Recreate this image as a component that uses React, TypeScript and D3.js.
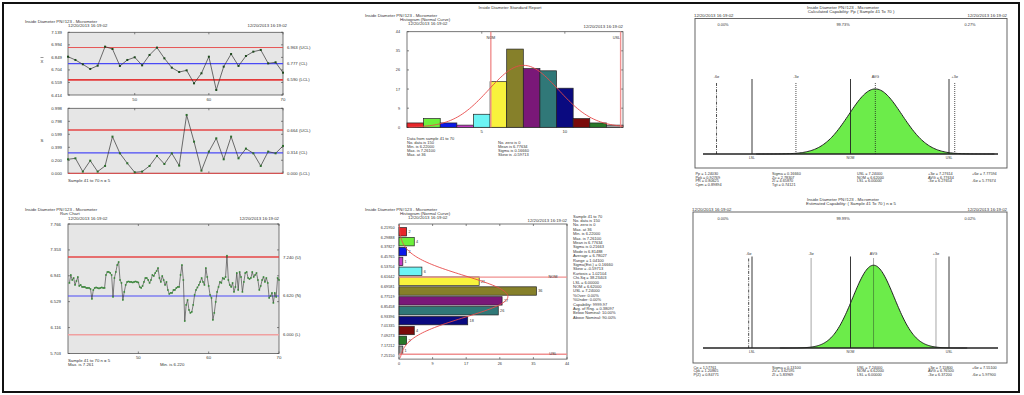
import React from "react";
import * as d3 from "d3";

const FONT = "'Liberation Sans', Arial, sans-serif";
const FS = 4.3;

const chartTitle = "Inside Diameter PN#123 - Micrometer";
const reportTitle = "Inside Diameter Standard Report";
const stamp = "12/20/2013  16:19:02";

// ---------- X-bar / S chart ----------
const sampleNos = [41, 42, 43, 44, 45, 46, 47, 48, 49, 50, 51, 52, 53, 54, 55, 56, 57, 58, 59, 60, 61, 62, 63, 64, 65, 66, 67, 68, 69, 70];
const xbarValues = [6.857, 6.819, 6.769, 6.715, 6.753, 6.973, 6.946, 6.750, 6.819, 6.850, 6.757, 6.877, 6.962, 6.838, 6.730, 6.680, 6.699, 6.549, 6.665, 6.857, 6.472, 6.742, 6.888, 6.750, 6.865, 6.915, 6.935, 6.780, 6.792, 6.672];
const sValues = [0.215, 0.230, 0.026, 0.194, 0.026, 0.113, 0.563, 0.307, 0.154, 0.015, 0.026, 0.113, 0.266, 0.143, 0.307, 0.118, 0.896, 0.486, 0.041, 0.333, 0.537, 0.215, 0.563, 0.230, 0.379, 0.307, 0.113, 0.333, 0.307, 0.420];
const xbarTicks = [7.139, 6.994, 6.849, 6.704, 6.559, 6.414];
const xbarLimits = [6.963, 6.777, 6.590];
const sTicks = [0.998, 0.798, 0.599, 0.399, 0.2, 0.0];
const sLimits = [0.664, 0.314, 0.0];
const limitNames = ["UCL", "CL", "LCL"];
const sampleTicks = [50, 60, 70];

// ---------- Run chart ----------
const runValues = [
  6.827, 6.954, 6.874, 6.906, 6.795, 6.858, 6.922, 6.779, 6.795, 6.763,
  6.763, 6.763, 6.747, 6.747, 6.747, 6.731, 6.572, 6.715, 6.747, 6.755,
  6.747, 6.740, 6.747, 6.755, 6.747, 6.747, 6.954, 7.002, 7.002, 6.986,
  6.954, 6.604, 6.906, 7.002, 7.113, 7.161, 6.874, 6.827, 6.556, 6.684,
  6.795, 6.843, 6.850, 6.843, 6.843, 6.835, 6.843, 6.850, 6.843, 6.835,
  6.763, 6.747, 6.779, 6.843, 6.906, 6.906, 6.874, 6.827, 6.874, 6.954,
  6.938, 6.986, 7.017, 7.065, 6.906, 6.843, 6.938, 6.874, 6.795, 6.843,
  6.715, 6.652, 6.668, 6.668, 6.715, 6.715, 6.747, 6.763, 6.763, 6.954,
  7.113, 6.874, 6.220, 6.477, 6.556, 6.397, 6.350, 6.366, 6.477, 6.636,
  6.715, 6.755, 6.795, 6.843, 6.906, 6.843, 6.795, 7.065, 6.922, 6.779,
  6.636, 6.588, 6.238, 6.350, 6.525, 6.684, 6.763, 6.843, 6.827, 6.906,
  6.890, 6.922, 7.261, 6.874, 6.795, 6.763, 6.827, 6.684, 6.763, 6.986,
  6.715, 7.002, 6.922, 6.684, 6.843, 6.986, 7.002, 6.906, 6.890, 6.906,
  7.002, 6.922, 6.954, 6.986, 6.874, 6.715, 6.779, 6.874, 6.922, 6.843,
  6.906, 6.827, 6.588, 6.620, 6.668, 6.509, 6.668, 6.604, 6.906, 6.874,
];
const runTicks = [7.766, 7.353, 6.941, 6.529, 6.116, 5.703];
const runLimits = [7.24, 6.62, 6.0];
const runLimitNames = ["U", "N", "L"];

// ---------- Histogram ----------
const binEdges = [6.2195, 6.29888, 6.37827, 6.45765, 6.53704, 6.61642, 6.69581, 6.77519, 6.85458, 6.93396, 7.01335, 7.09273, 7.17212, 7.2515];
const binCounts = [2, 4, 2, 1, 6, 21, 36, 27, 26, 18, 4, 2, 1];
const binColors = ["#e8262a", "#6cf03c", "#0a18e8", "#c83cc8", "#6cf4f4", "#f8f23c", "#86802a", "#7a1878", "#307878", "#0a0a80", "#7a0a0a", "#287828", "#a0a0a0"];
const countTickPos = [0, 8.8, 17.6, 26.4, 35.2, 44];
const countTickLabels = ["0", "9", "17", "26", "35", "44"];
const binTickPos = [4.5, 9.5];
const binTickLabels = ["5", "10"];
const histLeftStats = ["Data from sample 41 to 70", "No. data is 150", "Min. is 6.22000", "Max. is 7.26100", "Max. at 36"];
const histRightStats = ["No. zero is 0", "Mean is 6.77634", "Sigma is 0.16660", "Skew is -0.59713"];
const sideStats = [
  "Sample 41 to 70", "No. data is 150", "No. zero is 0", "Max. at 36", "Min. is 6.22000",
  "Max. is 7.26100", "Mean is 6.77634", "Sigma is 0.21663", "Mode is 6.81488", "Average = 6.78027",
  "Range = 1.04100", "Sigma(Est.) = 0.16660", "Skew = -0.59713", "Kurtosis = 1.02104", "Chi-Sq = 38.23403",
  "LSL = 6.00000", "NOM = 6.62000", "USL = 7.24000", "%Over:  0.00%", "%Under:  0.00%",
  "Capability: 9999.97", "Avg. of Rng. = 0.38097", "Below Nominal: 10.00%", "Above Nominal: 90.00%",
];

// ---------- Specs / fit ----------
const specLSL = 6.0;
const specNOM = 6.62;
const specUSL = 7.24;
const fitMean = 6.77634;
const fitSigma = 0.1666;
const fitN = 150;
const estMean = 6.765;
const estSigma = 0.131;

const cap1Pcts = ["0.00%", "99.73%", "0.27%"];
const cap2Pcts = ["0.00%", "99.99%", "0.02%"];
const cap1Stats = [
  ["Pp = 1.24030", "Ppk = 0.92769", "PR = 0.80625", "Cpm = 0.89894"],
  ["Sigma = 0.16660", "Zu = 2.78307", "Zl = 4.65870", "Tgt = 0.74121"],
  ["USL = 7.24000", "NOM = 6.62000", "LSL = 6.00000"],
  ["+3\u03c3 = 7.27614", "AVG = 6.77634", "-3\u03c3 = 6.27654"],
  ["+6\u03c3 = 7.77594", "", "-6\u03c3 = 5.77674"],
];
const cap2Stats = [
  ["Cp = 1.57761", "Cpk = 1.20865", "P(Z) = 0.84771"],
  ["Sigma = 0.13100", "Zu = 3.62595", "Zl = 5.83969"],
  ["USL = 7.24000", "NOM = 6.62000", "LSL = 6.00000"],
  ["+3\u03c3 = 7.15800", "AVG = 6.76500", "-3\u03c3 = 6.37200"],
  ["+6\u03c3 = 7.55100", "", "-6\u03c3 = 5.97900"],
];

const T = ({ x, y, children, anchor = "start", size = FS, fill = "#333", weight = "normal" }: any) => (
  <text x={x} y={y} fontSize={size} textAnchor={anchor} fill={fill} fontFamily={FONT} fontWeight={weight}>
    {children}
  </text>
);

const pdf = (z: number) => Math.exp(-0.5 * z * z) / Math.sqrt(2 * Math.PI);
const zGrid = d3.range(-4.5, 4.5001, 0.05);

function Frame({ x0, x1, y0, y1, xt, yt, fill }: any) {
  const L = 2;
  return (
    <g>
      <rect x={x0} y={y0} width={x1 - x0} height={y1 - y0} fill={fill} stroke="#555" strokeWidth={0.8} />
      {xt.map((px: number, i: number) => (
        <g key={"x" + i} stroke="#555" strokeWidth={0.7}>
          <line x1={px} x2={px} y1={y1} y2={y1 - L} />
          <line x1={px} x2={px} y1={y0} y2={y0 + L} />
        </g>
      ))}
      {yt.map((py: number, i: number) => (
        <g key={"y" + i} stroke="#555" strokeWidth={0.7}>
          <line x1={x0} x2={x0 + L} y1={py} y2={py} />
          <line x1={x1} x2={x1 - L} y1={py} y2={py} />
        </g>
      ))}
    </g>
  );
}

function ControlPanel() {
  const x = d3.scaleLinear().domain([41, 70]).range([68, 283]);
  const y1 = d3.scaleLinear().domain([6.414, 7.139]).range([95, 32.3]);
  const y2 = d3.scaleLinear().domain([0, 0.998]).range([173.3, 108.3]);
  const l1 = d3.line<number>().x((_, i) => x(sampleNos[i])).y((d) => y1(d));
  const l2 = d3.line<number>().x((_, i) => x(sampleNos[i])).y((d) => y2(d));
  const limStyle = [
    { c: "#e64646", w: 0.9 },
    { c: "#4a4af6", w: 1.3 },
    { c: "#e43a3a", w: 1.7 },
  ];
  const sStyle = [
    { c: "#e64646", w: 1.5 },
    { c: "#4a4af6", w: 1.3 },
    { c: "#e64646", w: 1.0 },
  ];
  return (
    <g>
      <T x={25} y={23}>{chartTitle}</T>
      <T x={68} y={26.8}>{stamp}</T>
      <T x={287} y={26.8} anchor="end">{stamp}</T>
      <Frame x0={68} x1={283} y0={32.3} y1={95} xt={sampleTicks.map(x)} yt={xbarTicks.map(y1)} fill="#e6e6e6" />
      {xbarLimits.map((v, i) => (
        <line key={i} x1={68} x2={283} y1={y1(v)} y2={y1(v)} stroke={limStyle[i].c} strokeWidth={limStyle[i].w} />
      ))}
      <path d={l1(xbarValues) || ""} fill="none" stroke="#333" strokeWidth={0.7} />
      {xbarValues.map((v, i) => (
        <rect key={i} x={x(sampleNos[i]) - 1} y={y1(v) - 1} width={2} height={2} fill="#1e4a1e" />
      ))}
      {xbarTicks.map((v, i) => (
        <T key={i} x={62} y={y1(v) + 1.5} anchor="end">{v.toFixed(3)}</T>
      ))}
      {xbarLimits.map((v, i) => (
        <T key={i} x={287} y={y1(v) + 1.5}>{`${v.toFixed(3)} (${limitNames[i]})`}</T>
      ))}
      {sampleTicks.map((v, i) => (
        <T key={i} x={x(v)} y={100.5} anchor="middle">{v}</T>
      ))}
      <line x1={40.5} x2={43.5} y1={57.5} y2={57.5} stroke="#333" strokeWidth={0.5} />
      <T x={42} y={63} anchor="middle">X</T>

      <Frame x0={68} x1={283} y0={108.3} y1={173.3} xt={sampleTicks.map(x)} yt={sTicks.map(y2)} fill="#e6e6e6" />
      {sLimits.map((v, i) => (
        <line key={i} x1={68} x2={283} y1={y2(v)} y2={y2(v)} stroke={sStyle[i].c} strokeWidth={sStyle[i].w} />
      ))}
      <path d={l2(sValues) || ""} fill="none" stroke="#333" strokeWidth={0.7} />
      {sValues.map((v, i) => (
        <rect key={i} x={x(sampleNos[i]) - 1} y={y2(v) - 1} width={2} height={2} fill="#2e6e2e" />
      ))}
      {sTicks.map((v, i) => (
        <T key={i} x={62} y={y2(v) + 1.5} anchor="end">{v.toFixed(3)}</T>
      ))}
      {sLimits.map((v, i) => (
        <T key={i} x={287} y={y2(v) + 1.5}>{`${v.toFixed(3)} (${limitNames[i]})`}</T>
      ))}
      <T x={42} y={141.5} anchor="middle">S</T>
      <T x={68} y={181.5}>Sample  41  to  70   n = 5</T>
    </g>
  );
}

function RunPanel() {
  const n = runValues.length;
  const x = d3.scaleLinear().domain([40, 70]).range([68, 279]);
  const xi = (i: number) => x(40 + ((i + 1) * 30) / n);
  const y = d3.scaleLinear().domain([5.703, 7.766]).range([353.5, 224]);
  const line = d3.line<number>().x((_, i) => xi(i)).y((d) => y(d));
  const st = [
    { c: "#e64646", w: 1.5 },
    { c: "#4a4af6", w: 1.1 },
    { c: "#f0a0a0", w: 1.5 },
  ];
  return (
    <g>
      <T x={25} y={211}>{chartTitle}</T>
      <T x={60} y={215}>Run Chart</T>
      <T x={68} y={219.5}>{stamp}</T>
      <T x={279} y={219.5} anchor="end">{stamp}</T>
      <Frame x0={68} x1={279} y0={224} y1={353.5} xt={sampleTicks.map(x)} yt={runTicks.map(y)} fill="#e6e6e6" />
      {runLimits.map((v, i) => (
        <line key={i} x1={68} x2={279} y1={y(v)} y2={y(v)} stroke={st[i].c} strokeWidth={st[i].w} />
      ))}
      <path d={line(runValues) || ""} fill="none" stroke="#333" strokeWidth={0.6} />
      {runValues.map((v, i) => (
        <rect key={i} x={xi(i) - 0.8} y={y(v) - 0.8} width={1.6} height={1.6} fill="#3a8a3a" />
      ))}
      {runTicks.map((v, i) => (
        <T key={i} x={61} y={y(v) + 1.5} anchor="end">{v.toFixed(3)}</T>
      ))}
      {runLimits.map((v, i) => (
        <T key={i} x={283} y={y(v) + 1.5}>{`${v.toFixed(3)} (${runLimitNames[i]})`}</T>
      ))}
      {sampleTicks.map((v, i) => (
        <T key={i} x={x(v)} y={358.5} anchor="middle">{v}</T>
      ))}
      <T x={68} y={361.5}>Sample  41  to  70   n = 5</T>
      <T x={68} y={365.5}>Max. is 7.261</T>
      <T x={160} y={365.5}>Min. is 6.220</T>
    </g>
  );
}

const binW = binEdges[1] - binEdges[0];
const binPos = (v: number) => (v - binEdges[0]) / binW;
const fitCount = (z: number) => (fitN * binW * pdf(z)) / fitSigma;

function HistPanel() {
  const xb = d3.scaleLinear().domain([0, 13]).range([407, 623]);
  const yc = d3.scaleLinear().domain([0, 44]).range([127.3, 31.7]);
  const pts = zGrid
    .map((z) => [binPos(fitMean + z * fitSigma), fitCount(z)])
    .filter((p) => p[0] >= 0 && p[0] <= 13);
  const curve = d3.line<number[]>().x((p) => xb(p[0])).y((p) => yc(p[1]))(pts) || "";
  const spec = [
    { v: specNOM, t: "NOM", a: "middle", dx: 0 },
    { v: specUSL, t: "USL", a: "end", dx: 0 },
  ];
  return (
    <g>
      <T x={510} y={9} anchor="middle">{reportTitle}</T>
      <T x={365} y={17}>{chartTitle}</T>
      <T x={400} y={21}>Histogram (Normal Curve)</T>
      <T x={408} y={24.8}>{stamp}</T>
      <T x={623} y={27.5} anchor="end">{stamp}</T>
      <Frame x0={407} x1={623} y0={31.7} y1={127.3} xt={binTickPos.map(xb)} yt={countTickPos.map(yc)} fill="#ffffff" />
      {binCounts.map((c, i) => (
        <rect key={i} x={xb(i)} y={yc(c)} width={xb(1) - xb(0)} height={yc(0) - yc(c)} fill={binColors[i]} stroke="#222" strokeWidth={0.7} />
      ))}
      {spec.map((s, i) => (
        <g key={i}>
          <line x1={xb(binPos(s.v))} x2={xb(binPos(s.v))} y1={31.7} y2={127.3} stroke="#f09090" strokeWidth={1.4} />
          <T x={xb(binPos(s.v)) + (s.a === "end" ? -0.5 : 0)} y={39} anchor={s.a} size={3.8}>{s.t}</T>
        </g>
      ))}
      <path d={curve} fill="none" stroke="#e84a4a" strokeWidth={0.9} />
      {countTickPos.map((v, i) => (
        <T key={i} x={400} y={yc(v) + 1.5} anchor="end" size={3.8}>{countTickLabels[i]}</T>
      ))}
      {binTickPos.map((v, i) => (
        <T key={i} x={xb(v)} y={132.5} anchor="middle">{binTickLabels[i]}</T>
      ))}
      {histLeftStats.map((s, i) => (
        <T key={i} x={407} y={139.5 + i * 4.2} size={4}>{s}</T>
      ))}
      {histRightStats.map((s, i) => (
        <T key={i} x={498} y={143.7 + i * 4.2} size={4}>{s}</T>
      ))}
    </g>
  );
}

function HHistPanel() {
  const yb = d3.scaleLinear().domain([0, 13]).range([227.3, 355.6]);
  const xc = d3.scaleLinear().domain([0, 44]).range([399, 567]);
  const pts = zGrid
    .map((z) => [binPos(fitMean + z * fitSigma), fitCount(z)])
    .filter((p) => p[0] >= -0.3 && p[0] <= 13.3);
  const curve = d3.line<number[]>().x((p) => xc(p[1])).y((p) => yb(p[0]))(pts) || "";
  const bh = 8.4;
  const spec = [
    { v: specNOM, t: "NOM" },
    { v: specUSL, t: "USL" },
  ];
  return (
    <g>
      <T x={365} y={211}>{chartTitle}</T>
      <T x={400} y={215}>Histogram (Normal Curve)</T>
      <T x={408} y={219}>{stamp}</T>
      <T x={567} y={221.5} anchor="end">{stamp}</T>
      <Frame x0={399} x1={567} y0={224} y1={359.1} xt={countTickPos.map(xc)} yt={[]} fill="#ffffff" />
      {binCounts.map((c, i) => (
        <g key={i}>
          <rect x={xc(0)} y={yb(i) + 0.3} width={xc(c) - xc(0)} height={bh} fill={binColors[i]} stroke="#222" strokeWidth={0.7} />
          <T x={xc(c) + 1.8} y={yb(i) + 0.3 + bh / 2 + 1.4} size={3.8}>{c}</T>
        </g>
      ))}
      {spec.map((s, i) => (
        <g key={i}>
          <line x1={399} x2={567} y1={yb(binPos(s.v))} y2={yb(binPos(s.v))} stroke="#f09090" strokeWidth={1.4} />
          <T x={553} y={yb(binPos(s.v)) + 1.3} anchor="middle" size={3.8}>{s.t}</T>
        </g>
      ))}
      <path d={curve} fill="none" stroke="#e84a4a" strokeWidth={0.9} />
      {binEdges.map((v, i) => (
        <T key={i} x={394.5} y={yb(i) + 1.4} anchor="end" size={3.8}>{v.toFixed(5)}</T>
      ))}
      {countTickPos.map((v, i) => (
        <T key={i} x={xc(v)} y={364.5} anchor="middle" size={3.8}>{countTickLabels[i]}</T>
      ))}
      {sideStats.map((s, i) => (
        <T key={i} x={573} y={217.5 + i * 4.4} size={4}>{s}</T>
      ))}
    </g>
  );
}

function CapPanel({ p }: any) {
  const x = d3.scaleLinear().domain([specLSL, specUSL]).range([752, 949]);
  const sPx = x(p.mean + p.sigma) - x(p.mean);
  const AREA = 4318;
  const amp = AREA / (sPx * Math.sqrt(2 * Math.PI));
  const curvePts = zGrid
    .map((z) => [x(p.mean + z * p.sigma), p.base - amp * Math.exp(-0.5 * z * z)])
    .filter((q) => q[0] >= 703 && q[0] <= 998);
  const area = d3.area<number[]>().x((q) => q[0]).y0(p.base).y1((q) => q[1])(curvePts) || "";
  const line = d3.line<number[]>().x((q) => q[0]).y((q) => q[1])(curvePts) || "";
  const specs = [
    { v: specLSL, t: "LSL" },
    { v: specNOM, t: "NOM" },
    { v: specUSL, t: "USL" },
  ];
  const sig = [
    { k: -6, t: "-6\u03c3", dash: "3,1.2,0.8,1.2" },
    { k: -3, t: "-3\u03c3", dash: "1,1" },
    { k: 0, t: "AVG", dash: "1,1" },
    { k: 3, t: "+3\u03c3", dash: "1,1" },
    { k: 6, t: "+6\u03c3", dash: "3,1.2,0.8,1.2" },
  ].filter((s) => {
    const px = x(p.mean + s.k * p.sigma);
    return px >= 703 && px <= 998;
  });
  const colX = [p.bx + 0.5, 772, 857, 928, 972];
  return (
    <g>
      <T x={843} y={p.titleY} anchor="middle">{chartTitle}</T>
      <T x={851} y={p.titleY + 4} anchor="middle">{p.sub}</T>
      <T x={p.bx - 1} y={p.by - 1.3}>{stamp}</T>
      <T x={1007} y={p.by - 1.3} anchor="end">{stamp}</T>
      <rect x={p.bx} y={p.by} width={1007 - p.bx} height={p.bh} fill="#fff" stroke="#555" strokeWidth={0.9} />
      {p.pcts.map((s: string, i: number) => (
        <T key={i} x={[723, 843, 970][i]} y={p.by + 7.5} anchor="middle" size={3.9}>{s}</T>
      ))}
      <path d={area} fill="#6cec4a" />
      <path d={line} fill="none" stroke="#222" strokeWidth={1} />
      {sig.map((s, i) => {
        const px = x(p.mean + s.k * p.sigma);
        return (
          <g key={i}>
            <line x1={px} x2={px} y1={p.dotTop} y2={p.base} stroke="#222" strokeWidth={0.8} strokeDasharray={s.dash} />
            <T x={px} y={p.labTop} anchor="middle" size={3.6}>{s.t}</T>
          </g>
        );
      })}
      {specs.map((s, i) => (
        <g key={i}>
          <line x1={x(s.v)} x2={x(s.v)} y1={p.solidTop} y2={p.base} stroke="#222" strokeWidth={0.9} />
          <T x={x(s.v)} y={p.base + 5} anchor="middle" size={3.4}>{s.t}</T>
        </g>
      ))}
      <line x1={703} x2={998} y1={p.base} y2={p.base} stroke="#222" strokeWidth={1.3} />
      {p.stats.map((col: string[], ci: number) =>
        col.map((s, li) => (
          <T key={ci + "-" + li} x={colX[ci]} y={p.statY + li * 3.7} size={3.8}>{s}</T>
        ))
      )}
    </g>
  );
}

const cap1 = {
  titleY: 8.5, sub: "Calculated Capability: Pp  ( Sample 41 To 70 )",
  bx: 695, by: 18.5, bh: 149.5, base: 154, solidTop: 79, dotTop: 83, labTop: 77.5,
  mean: fitMean, sigma: fitSigma, pcts: cap1Pcts, stats: cap1Stats, statY: 175,
};
const cap2 = {
  titleY: 201, sub: "Estimated Capability: ( Sample 41 To 70 ) n = 5",
  bx: 693, by: 212, bh: 151, base: 348, solidTop: 256.5, dotTop: 258.5, labTop: 255,
  mean: estMean, sigma: estSigma, pcts: cap2Pcts, stats: cap2Stats, statY: 368.5,
};

export default function App() {
  return (
    <div style={{ position: "absolute", left: 0, top: 0, width: 1024, height: 395, background: "#fff" }}>
      <svg width={1024} height={395} viewBox="0 0 1024 395" style={{ display: "block" }}>
        <rect x={0} y={0} width={1024} height={395} fill="#fff" />
        <ControlPanel />
        <RunPanel />
        <HistPanel />
        <HHistPanel />
        <CapPanel p={cap1} />
        <CapPanel p={cap2} />
        <rect x={3} y={3} width={1016} height={389} fill="none" stroke="#111" strokeWidth={2} />
      </svg>
    </div>
  );
}
